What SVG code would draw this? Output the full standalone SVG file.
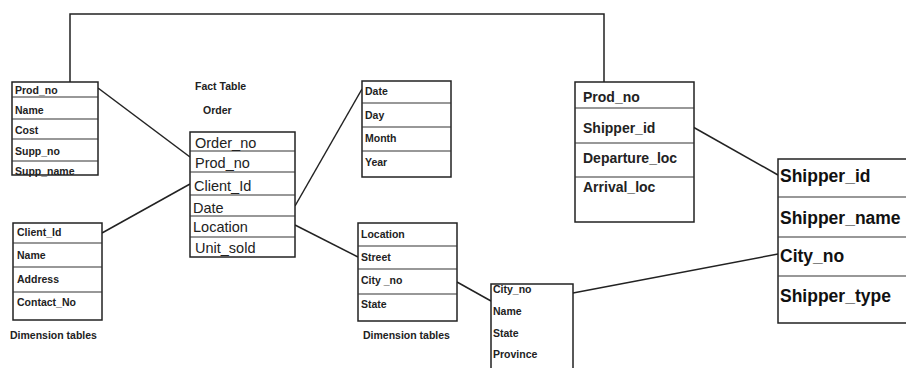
<svg xmlns="http://www.w3.org/2000/svg" width="906" height="368" viewBox="0 0 906 368">
<style>
.box{fill:#fff;stroke:#222;stroke-width:1.5}
.row{stroke:#333;stroke-width:1.2}
.con{fill:none;stroke:#222;stroke-width:1.5}
.s{font-family:"Liberation Sans",Arial,sans-serif;font-weight:bold;font-size:10.5px;fill:#222}
.n{font-family:"Liberation Sans",Arial,sans-serif;font-size:14.5px;fill:#222}
.m{font-family:"Liberation Sans",Arial,sans-serif;font-weight:bold;font-size:14px;fill:#222}
.l{font-family:"Liberation Sans",Arial,sans-serif;font-weight:bold;font-size:17.5px;fill:#111}
</style>
<rect width="906" height="368" fill="#fff"/>
<g id="connectors">
<polyline class="con" points="70,83 70,14 604,14 604,82"/>
<line class="con" x1="98" y1="88" x2="190" y2="157"/>
<line class="con" x1="102" y1="233" x2="190" y2="184"/>
<line class="con" x1="295" y1="206" x2="362" y2="89"/>
<line class="con" x1="295" y1="225" x2="358" y2="257"/>
<line class="con" x1="457" y1="282" x2="491" y2="301"/>
<line class="con" x1="693" y1="127" x2="778" y2="175"/>
<line class="con" x1="573" y1="293" x2="778" y2="254"/>
</g>
<g id="product">
<rect class="box" x="12" y="82" width="86" height="93"/>
<line class="row" x1="12" y1="97" x2="98" y2="97"/>
<line class="row" x1="12" y1="119" x2="98" y2="119"/>
<line class="row" x1="12" y1="139" x2="98" y2="139"/>
<line class="row" x1="12" y1="161" x2="98" y2="161"/>
<text class="s" x="15" y="94" font-size="8">Prod_no</text>
<text class="s" x="15" y="114" font-size="8">Name</text>
<text class="s" x="15" y="134" font-size="8">Cost</text>
<text class="s" x="15" y="155" font-size="8">Supp_no</text>
<text class="s" x="15" y="175" font-size="8">Supp_name</text>
</g>
<g id="fact-label">
<text class="s" x="195" y="90">Fact Table</text>
<text class="s" x="203" y="114">Order</text>
</g>
<g id="order">
<rect class="box" x="190" y="132" width="105" height="125"/>
<line class="row" x1="190" y1="151" x2="295" y2="151"/>
<line class="row" x1="190" y1="172" x2="295" y2="172"/>
<line class="row" x1="190" y1="195" x2="295" y2="195"/>
<line class="row" x1="190" y1="216" x2="295" y2="216"/>
<line class="row" x1="190" y1="237" x2="295" y2="237"/>
<text class="n" x="195" y="148">Order_no</text>
<text class="n" x="195" y="168">Prod_no</text>
<text class="n" x="194" y="191">Client_Id</text>
<text class="n" x="193" y="213">Date</text>
<text class="n" x="193" y="232">Location</text>
<text class="n" x="195" y="253">Unit_sold</text>
</g>
<g id="client">
<rect class="box" x="13" y="223" width="89" height="97"/>
<line class="row" x1="13" y1="243" x2="102" y2="243"/>
<line class="row" x1="13" y1="267" x2="102" y2="267"/>
<line class="row" x1="13" y1="292" x2="102" y2="292"/>
<text class="s" x="17" y="236">Client_Id</text>
<text class="s" x="17" y="259">Name</text>
<text class="s" x="17" y="283">Address</text>
<text class="s" x="17" y="306">Contact_No</text>
</g>
<text class="s" x="10" y="339">Dimension tables</text>
<g id="date">
<rect class="box" x="362" y="81" width="89" height="96"/>
<line class="row" x1="362" y1="103" x2="451" y2="103"/>
<line class="row" x1="362" y1="127" x2="451" y2="127"/>
<line class="row" x1="362" y1="151" x2="451" y2="151"/>
<text class="s" x="365" y="95">Date</text>
<text class="s" x="365" y="119">Day</text>
<text class="s" x="365" y="142">Month</text>
<text class="s" x="365" y="166">Year</text>
</g>
<g id="location">
<rect class="box" x="358" y="223" width="99" height="98"/>
<line class="row" x1="358" y1="246" x2="457" y2="246"/>
<line class="row" x1="358" y1="269" x2="457" y2="269"/>
<line class="row" x1="358" y1="294" x2="457" y2="294"/>
<text class="s" x="361" y="238">Location</text>
<text class="s" x="361" y="261">Street</text>
<text class="s" x="361" y="284">City _no</text>
<text class="s" x="361" y="308">State</text>
</g>
<text class="s" x="363" y="339">Dimension tables</text>
<g id="city">
<rect class="box" x="491" y="284" width="82" height="100"/>
<text class="s" x="493" y="293" font-size="9.7">City_no</text>
<text class="s" x="493" y="315" font-size="9.7">Name</text>
<text class="s" x="493" y="337" font-size="9.7">State</text>
<text class="s" x="493" y="358" font-size="9.7">Province</text>
</g>
<g id="shipment">
<rect class="box" x="575" y="82" width="119" height="140"/>
<line class="row" x1="575" y1="108" x2="694" y2="108"/>
<line class="row" x1="575" y1="143" x2="694" y2="143"/>
<line class="row" x1="575" y1="177" x2="694" y2="177"/>
<text class="m" x="583" y="102">Prod_no</text>
<text class="m" x="583" y="133">Shipper_id</text>
<text class="m" x="583" y="163">Departure_loc</text>
<text class="m" x="583" y="192">Arrival_loc</text>
</g>
<g id="shipper">
<rect class="box" x="778" y="159" width="140" height="164"/>
<line class="row" x1="778" y1="197" x2="906" y2="197"/>
<line class="row" x1="778" y1="237" x2="906" y2="237"/>
<line class="row" x1="778" y1="276" x2="906" y2="276"/>
<text class="l" x="780" y="182">Shipper_id</text>
<text class="l" x="780" y="224">Shipper_name</text>
<text class="l" x="780" y="262">City_no</text>
<text class="l" x="780" y="302">Shipper_type</text>
</g>
</svg>
